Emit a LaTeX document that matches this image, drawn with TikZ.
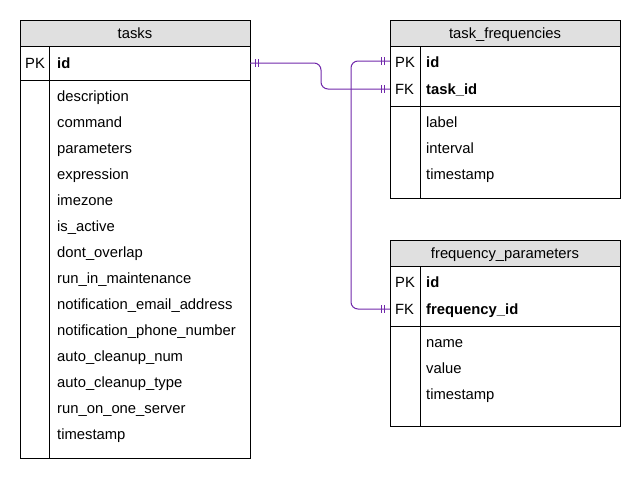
\documentclass[tikz,border=0pt]{standalone}
\usepackage{fontspec}
\setmainfont{Liberation Sans}
\definecolor{rel}{RGB}{112,40,170}
\definecolor{hdr}{RGB}{224,224,224}
\begin{document}
\begin{tikzpicture}[x=1pt,y=-1pt,
  tbl/.style={draw=black,line width=1pt},
  hdrbox/.style={draw=black,line width=1pt,fill=hdr},
  txt/.style={anchor=base west,inner sep=0pt,yshift=-5.2pt,font=\fontsize{14.8}{16}\selectfont},
  htxt/.style={anchor=base,inner sep=0pt,yshift=-5.2pt,font=\fontsize{14.8}{16}\selectfont},
  btxt/.style={txt,font=\fontsize{14.8}{16}\selectfont\bfseries},
  relline/.style={draw=rel,line width=1pt,rounded corners=7pt},
  bar/.style={draw=rel,line width=1pt}]
\useasboundingbox (0,0) rectangle (641,480);
% ---------- tasks ----------
\draw[hdrbox] (20,20) rectangle (250,46);
\node[htxt] (tasksT) at (135,33) {tasks};
\draw[tbl] (20,46) rectangle (250,80);
\node[inner sep=0pt,minimum width=230pt,minimum height=34pt] (tasksPK) at (135,63) {};
\draw[tbl] (20,80) rectangle (250,458);
\draw[tbl] (49,46) -- (49,458);
\node[txt] at (25,63) {PK};
\node[btxt] at (57,63) {id};
\foreach \t [count=\i from 0] in {description,command,parameters,expression,imezone,is\_active,dont\_overlap,run\_in\_maintenance,notification\_email\_address,notification\_phone\_number,auto\_cleanup\_num,auto\_cleanup\_type,run\_on\_one\_server,timestamp}
  \node[txt] at (57,96+26*\i) {\t};
% ---------- task_frequencies ----------
\draw[hdrbox] (390,20) rectangle (620,46);
\node[htxt] (tfT) at (505,33) {task\_frequencies};
\draw[tbl] (390,46) rectangle (620,106);
\draw[tbl] (390,106) rectangle (620,198);
\draw[tbl] (420,46) -- (420,198);
\node[inner sep=0pt,minimum width=230pt,minimum height=27pt] (tfPK) at (505,61) {};
\node[inner sep=0pt,minimum width=230pt,minimum height=27pt] (tfFK) at (505,89) {};
\node[txt] at (395,62) {PK};
\node[btxt] at (426,62) {id};
\node[txt] at (395,89) {FK};
\node[btxt] at (426,89) {task\_id};
\node[txt] at (426,122) {label};
\node[txt] at (426,148) {interval};
\node[txt] at (426,174) {timestamp};
% ---------- frequency_parameters ----------
\draw[hdrbox] (390,240) rectangle (620,266);
\node[htxt] (fpT) at (505,253) {frequency\_parameters};
\draw[tbl] (390,266) rectangle (620,326);
\draw[tbl] (390,326) rectangle (620,426);
\draw[tbl] (420,266) -- (420,426);
\node[inner sep=0pt,minimum width=230pt,minimum height=27pt] (fpFK) at (505,309) {};
\node[txt] at (395,282) {PK};
\node[btxt] at (426,282) {id};
\node[txt] at (395,309) {FK};
\node[btxt] at (426,309) {frequency\_id};
\node[txt] at (426,342) {name};
\node[txt] at (426,368) {value};
\node[txt] at (426,394) {timestamp};
% ---------- relations ----------
\draw[relline] (tasksPK.east) -- (321,63) -- (321,89) -- (tfFK.west);
\draw[relline] (tfPK.west) -- (351,61) -- (351,309) -- (fpFK.west);
% mandatory-one marks
\foreach \s in {5,8}
  \draw[bar] ([xshift=\s pt,yshift=4pt]tasksPK.east) -- ++(0,8);
\foreach \n in {tfPK.west,tfFK.west,fpFK.west}{
  \draw[bar] ([xshift=-5pt,yshift=4pt]\n) -- ++(0,8);
  \draw[bar] ([xshift=-8pt,yshift=4pt]\n) -- ++(0,8);}
\end{tikzpicture}
\end{document}
